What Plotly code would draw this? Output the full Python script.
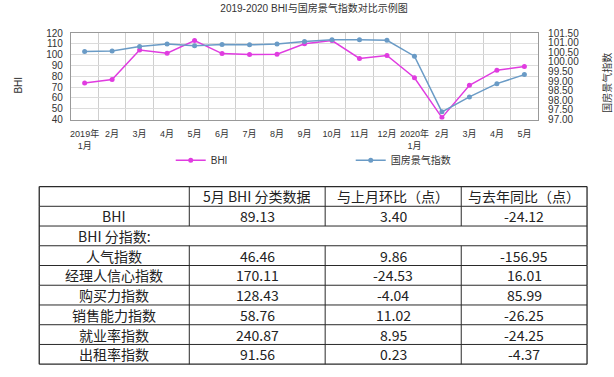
import plotly.graph_objects as go

# ---------------- data ----------------
months = ["2019年<br>1月", "2月", "3月", "4月", "5月", "6月", "7月", "8月", "9月",
          "10月", "11月", "12月", "2020年<br>1月", "2月", "3月", "4月", "5月"]
bhi = [73.9, 77.1, 104.4, 101.4, 113.2, 101.1, 100.2, 100.5, 110.1,
       113.1, 96.6, 99.3, 78.7, 41.8, 71.7, 85.7, 89.1]
guofang = [100.55, 100.57, 100.81, 100.93, 100.85, 100.91, 100.89, 100.94, 101.06,
           101.15, 101.16, 101.13, 100.30, 97.40, 98.18, 98.87, 99.34]

table_header = ["", "5月 BHI 分类数据", "与上月环比（点）", "与去年同比（点）"]
row_names = ["BHI", "BHI 分指数:", "人气指数", "经理人信心指数", "购买力指数",
             "销售能力指数", "就业率指数", "出租率指数"]
may_values = ["89.13", "", "46.46", "170.11", "128.43", "58.76", "240.87", "91.56"]
mom_values = ["3.40", "", "9.86", "-24.53", "-4.04", "11.02", "8.95", "0.23"]
yoy_values = ["-24.12", "", "-156.95", "16.01", "85.99", "-26.25", "-24.25", "-4.37"]

# ---------------- layout constants ----------------
W, H = 614, 377
FONT = "Liberation Sans, Arial, Noto Sans CJK SC, sans-serif"
CJK = "Noto Sans CJK SC, sans-serif"
MAGENTA = "#e03ce0"
BLUE = "#6a9bc6"
TXT = "#333"

plot_l, plot_r, plot_t, plot_b = 70, 538, 29, 118
tab_cols = [38.3, 188.6, 324.7, 461.0, 587.0]
tab_top, tab_bot = 187.0, 370.0


def px(x):
    return x / W


def py(y):
    return 1 - y / H


xs = list(range(len(months)))

fig = go.Figure()
fig.add_trace(go.Scatter(
    x=xs, y=bhi, name="BHI", mode="lines+markers",
    line=dict(color=MAGENTA, width=1.5), marker=dict(size=5, color=MAGENTA),
    yaxis="y"))
fig.add_trace(go.Scatter(
    x=xs, y=guofang, name="国房景气指数", mode="lines+markers",
    line=dict(color=BLUE, width=1.5), marker=dict(size=5, color=BLUE),
    yaxis="y2"))

# ---------------- table (lines + text) ----------------
table_rows = [table_header] + [
    [row_names[i], may_values[i], mom_values[i], yoy_values[i]]
    for i in range(len(row_names))
]
n_rows = len(table_rows)
row_h = (tab_bot - tab_top) / n_rows
row_edges = [tab_top + i * row_h for i in range(n_rows + 1)]
merged = {1 + row_names.index("BHI 分指数:")}

shapes = []
annotations = []
# horizontal lines
for i, ye in enumerate(row_edges):
    shapes.append(dict(type="line", xref="paper", yref="paper",
                       x0=px(tab_cols[0]), x1=px(tab_cols[-1]), y0=py(ye), y1=py(ye),
                       line=dict(color="#2a2a2a", width=1.3 if i in (0, n_rows) else 1)))
# vertical lines
for j, xe in enumerate(tab_cols):
    outer = j in (0, len(tab_cols) - 1)
    for r in range(n_rows):
        if r in merged and not outer:
            continue
        shapes.append(dict(type="line", xref="paper", yref="paper",
                           x0=px(xe), x1=px(xe), y0=py(row_edges[r]), y1=py(row_edges[r + 1]),
                           line=dict(color="#2a2a2a", width=1.3 if outer else 1)))
# cell text
for r, row in enumerate(table_rows):
    yc = (row_edges[r] + row_edges[r + 1]) / 2
    for c, val in enumerate(row):
        if val == "":
            continue
        xc = (tab_cols[c] + tab_cols[c + 1]) / 2
        annotations.append(dict(text=val, xref="paper", yref="paper",
                                x=px(xc), y=py(yc), xanchor="center", yanchor="middle",
                                showarrow=False,
                                font=dict(family=CJK, size=14, color="#222")))

# axis titles
annotations.append(dict(text="BHI", xref="paper", yref="paper", x=px(18), y=py(82),
                        xanchor="center", yanchor="middle", textangle=-90, showarrow=False,
                        font=dict(family=FONT, size=10, color=TXT)))
annotations.append(dict(text="国房景气指数", xref="paper", yref="paper", x=px(607), y=py(80),
                        xanchor="center", yanchor="middle", textangle=-90, showarrow=False,
                        font=dict(family=FONT, size=10, color=TXT)))

fig.update_layout(
    width=W, height=H,
    margin=dict(l=0, r=0, t=0, b=0),
    paper_bgcolor="white", plot_bgcolor="white",
    font=dict(family=FONT, size=10, color=TXT),
    title=dict(text="2019-2020 BHI与国房景气指数对比示例图", x=px(314), xanchor="center",
               y=py(8), yanchor="middle", font=dict(size=10, color=TXT)),
    showlegend=True,
    legend=dict(orientation="h", x=px(170), xanchor="left", y=py(160), yanchor="middle",
                entrywidth=135, entrywidthmode="pixels",
                font=dict(size=10, color=TXT), bgcolor="rgba(0,0,0,0)"),
    xaxis=dict(domain=[px(plot_l), px(plot_r)], range=[-0.5, len(months) - 0.5],
               tickmode="array", tickvals=xs, ticktext=months, showgrid=False,
               tickangle=0, tickfont=dict(size=9, color=TXT),
               ticks="outside", ticklen=6, tickcolor="rgba(0,0,0,0)",
               showline=True, linecolor="#999", linewidth=1, mirror=True,
               zeroline=False,
               minor=dict(tickmode="linear", tick0=-0.5, dtick=1, showgrid=True,
                          gridcolor="#cfcfcf", gridwidth=1, ticks="")),
    yaxis=dict(domain=[py(plot_b), py(plot_t)], range=[40, 120], dtick=10,
               showgrid=True, gridcolor="#dcdcdc", gridwidth=1, zeroline=False,
               showline=True, linecolor="#999", linewidth=1, mirror=True,
               ticks="outside", ticklen=5, tickcolor="rgba(0,0,0,0)",
               tickfont=dict(size=10, color=TXT)),
    yaxis2=dict(overlaying="y", side="right", range=[97, 101.5], dtick=0.5,
                tickformat=".2f", showgrid=False, zeroline=False,
                ticks="outside", ticklen=7, tickcolor="rgba(0,0,0,0)",
                tickfont=dict(size=10, color=TXT)),
    shapes=shapes,
    annotations=annotations,
)

fig.write_html("out.html", config={"displayModeBar": False},
               post_script="document.body.style.margin='0';")
